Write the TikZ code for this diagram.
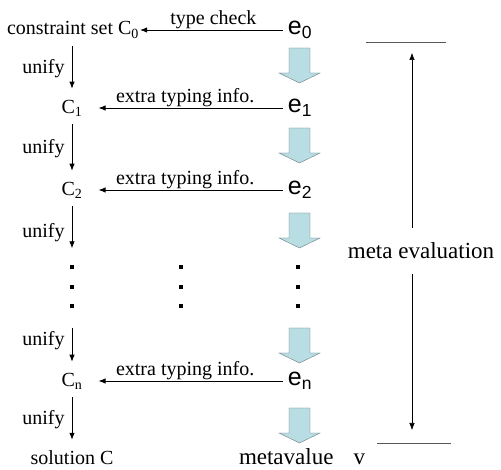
\documentclass[tikz,border=0pt]{standalone}
\usepackage{fontspec}
\setmainfont{Liberation Serif}
\setsansfont{Liberation Sans}
\usetikzlibrary{arrows,arrows.meta,positioning}
\definecolor{blockfill}{RGB}{184,221,226}
\definecolor{blockline}{RGB}{105,125,130}

\begin{document}
\begin{tikzpicture}[x=1pt,y=-1pt,>={Latex[length=7pt,width=5.5pt]}]
        \tikzstyle{lbl}=[font=\fontsize{20}{22}\selectfont, inner sep=1pt]
        \tikzstyle{biglbl}=[font=\fontsize{23}{25}\selectfont, inner sep=1pt]
        \tikzstyle{expr}=[font=\sffamily\fontsize{25}{27}\selectfont, inner sep=1pt]
        \tikzstyle{dotcol}=[inner sep=0pt, align=center, font=\fontsize{4}{19.5}\selectfont]
        \tikzstyle{info}=[->, thick, shorten <=4pt]
        \tikzstyle{unifyarr}=[->, thick, shorten <=7pt, shorten >=10pt]
        \tikzstyle{evalstep}=[draw=blockline, fill=blockfill]
        \useasboundingbox (0,0) rectangle (501,470);
        % constraint side
        \node[lbl] (C0) at (73,30) {constraint set C\textsubscript{0}};
        \node[lbl] (C1) at (72,108) {C\textsubscript{1}};
        \node[lbl] (C2) at (72,190) {C\textsubscript{2}};
        \node[dotcol] (dC) at (72,287) {\rule{4pt}{4pt}\\\rule{4pt}{4pt}\\\rule{4pt}{4pt}};
        \node[lbl] (Cn) at (72,381) {C\textsubscript{n}};
        \node[lbl] (sol) at (72,458) {solution C};
        \node[dotcol] (dM) at (181,287) {\rule{4pt}{4pt}\\\rule{4pt}{4pt}\\\rule{4pt}{4pt}};
        % expression side
        \node[expr] (e0) at (300,30) {e\textsubscript{0}};
        \node[expr] (e1) at (300,108) {e\textsubscript{1}};
        \node[expr] (e2) at (300,190) {e\textsubscript{2}};
        \node[dotcol] (dE) at (298,287) {\rule{4pt}{4pt}\\\rule{4pt}{4pt}\\\rule{4pt}{4pt}};
        \node[expr] (en) at (300,381) {e\textsubscript{n}};
        \node[biglbl] (val) at (302,457) {metavalue\hspace{20pt}v};
        % typing arrows
        \draw[info] (e0.west) -- node[lbl, above] {type check} (C0.east);
        \draw[info, shorten >=15pt] (e1.west) -- node[lbl, above] {extra typing info.} (C1.east);
        \draw[info, shorten >=15pt] (e2.west) -- node[lbl, above] {extra typing info.} (C2.east);
        \draw[info, shorten >=15pt] (en.west) -- node[lbl, above] {extra typing info.} (Cn.east);
        % unification
        \draw[unifyarr] (C1 |- C0.south) -- node[lbl, left=6pt] {unify} (C1.north);
        \draw[unifyarr] (C1.south) -- node[lbl, left=6pt] {unify} (C2.north);
        \draw[unifyarr, shorten >=17pt] (C2.south) -- node[lbl, left=6pt] {unify} (dC.north);
        \draw[unifyarr, shorten <=19pt] (dC.south) -- node[lbl, left=6pt] {unify} (Cn.north);
        \draw[unifyarr] (Cn.south) -- node[lbl, left=6pt] {unify} (sol.north);
        % evaluation steps
        \foreach \t in {48,128,213,328,408}
          \draw[evalstep] (289,\t) -- (310,\t) -- (310,\t+25) -- (320,\t+25)
            -- (299.5,\t+35) -- (279,\t+25) -- (289,\t+25) -- cycle;
        % meta evaluation
        \node[biglbl] (meta) at (421,251) {meta evaluation};
        \coordinate (tl) at (366,42);
        \coordinate (tr) at (446,42);
        \coordinate (bl) at (377,443);
        \coordinate (br) at (451,443);
        \coordinate (ttop) at (412,53);
        \coordinate (tbot) at (412,430);
        \draw[gray!70!black, thick] (tl) -- (tr);
        \draw[gray!70!black, thick] (bl) -- (br);
        \draw[->, semithick, shorten <=14pt] (ttop |- meta.north) -- (ttop);
        \draw[->, semithick, shorten <=14pt] (tbot |- meta.south) -- (tbot);
\end{tikzpicture}
\end{document}
